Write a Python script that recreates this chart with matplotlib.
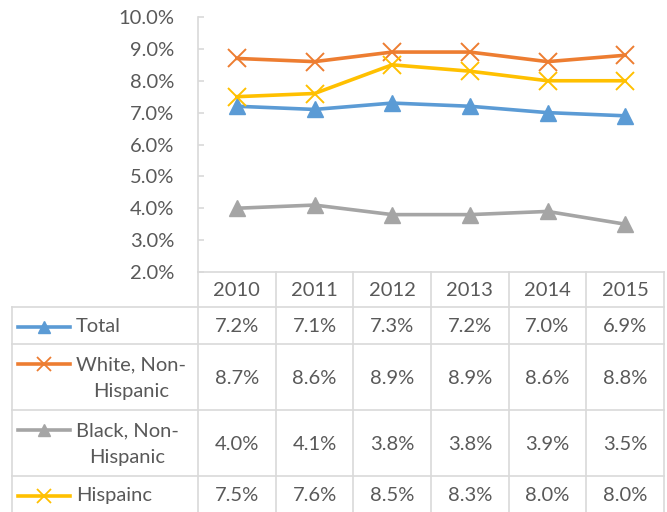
import matplotlib
matplotlib.use("Agg")
import matplotlib.pyplot as plt
from matplotlib.ticker import FuncFormatter

years = ["2010", "2011", "2012", "2013", "2014", "2015"]
series_names = ["Total", "White, Non-\nHispanic", "Black, Non-\nHispanic", "Hispainc"]
total = [7.2, 7.1, 7.3, 7.2, 7.0, 6.9]
white = [8.7, 8.6, 8.9, 8.9, 8.6, 8.8]
black = [4.0, 4.1, 3.8, 3.8, 3.9, 3.5]
hispanic = [7.5, 7.6, 8.5, 8.3, 8.0, 8.0]
values = [total, white, black, hispanic]

colors = ["#5B9BD5", "#ED7D31", "#A5A5A5", "#FFC000"]
markers = ["^", "x", "^", "x"]
text_color = "#595959"
grid_color = "#D9D9D9"

plt.rcParams["font.family"] = ["Lato", "DejaVu Sans"]
fs = 14.5

W, H = 667, 512
fig = plt.figure(figsize=(W / 100, H / 100), dpi=100)

# plot area in pixel terms
ax_left, ax_right, ax_top, ax_bottom = 198, 664, 17, 272
ax = fig.add_axes([ax_left / W, 1 - ax_bottom / H, (ax_right - ax_left) / W, (ax_bottom - ax_top) / H])
xs = list(range(len(years)))
for vals, c, m in zip(values, colors, markers):
    y = [v / 100 for v in vals]
    if m == "^":
        ax.plot(xs, y, color=c, lw=2.6, marker=m, ms=11, zorder=3, clip_on=False)
    else:
        ax.plot(xs, y, color=c, lw=2.6, marker=m, ms=13, mew=1.4, zorder=3, clip_on=False)

ax.set_xlim(-0.5, len(years) - 0.5)
ax.set_ylim(0.02, 0.10)
ax.set_yticks([i / 100 for i in range(2, 11)])
ax.yaxis.set_major_formatter(FuncFormatter(lambda v, p: f"{v * 100:.1f}%"))
ax.tick_params(axis="y", direction="in", length=4.5, width=1.2, color=grid_color,
               labelsize=fs, labelcolor=text_color, pad=17)
ax.set_xticks([])
for s in ["top", "right", "bottom"]:
    ax.spines[s].set_visible(False)
ax.spines["left"].set_color(grid_color)
ax.spines["left"].set_linewidth(1.2)

# data table below the plot
colw = (ax_right - ax_left) / len(years)


def px2x(p):
    return -0.5 + (p - ax_left) / colw


tab_left = 12
tab = fig.add_axes([tab_left / W, 0, (ax_right - tab_left) / W, (H - ax_bottom) / H])
tab.set_xlim(px2x(tab_left), len(years) - 0.5)
tab.set_ylim(H - ax_bottom, 0)
tab.axis("off")

rows = [0, 35, 72, 138, 204, 240]
lkw = dict(color=grid_color, lw=1.2, clip_on=False)
tab.plot([-0.5, len(years) - 0.5], [0, 0], **lkw)
for r in rows[1:-1]:
    tab.plot([px2x(tab_left), len(years) - 0.5], [r, r], **lkw)
for k in range(len(years) + 1):
    tab.plot([k - 0.5, k - 0.5], [0, rows[-1]], **lkw)
tab.plot([px2x(tab_left), px2x(tab_left)], [rows[1], rows[-1]], **lkw)

tkw = dict(fontsize=fs, color=text_color, va="center", ha="center")
for i, yr in enumerate(years):
    tab.text(i, (rows[0] + rows[1]) / 2 + 1, yr, **tkw)

for j, (name, vals, c, m) in enumerate(zip(series_names, values, colors, markers)):
    yc = (rows[j + 1] + rows[j + 2]) / 2 + 1.5
    for i, v in enumerate(vals):
        tab.text(i, yc, f"{v:.1f}%", **tkw)
    # legend key sits on the first text line
    ky = yc - 15 if "\n" in name else yc
    tab.plot([px2x(18), px2x(70)], [ky, ky], color=c, lw=2.6, clip_on=False)
    if m == "^":
        tab.plot([px2x(44)], [ky], color=c, marker=m, ms=8, clip_on=False)
    else:
        tab.plot([px2x(44)], [ky], color=c, marker=m, ms=10, mew=1.3, clip_on=False)
    tab.text(px2x(76), yc, name, fontsize=fs, color=text_color, va="center", ha="left",
             multialignment="center", linespacing=1.7)

fig.savefig("out.png", dpi=100)
